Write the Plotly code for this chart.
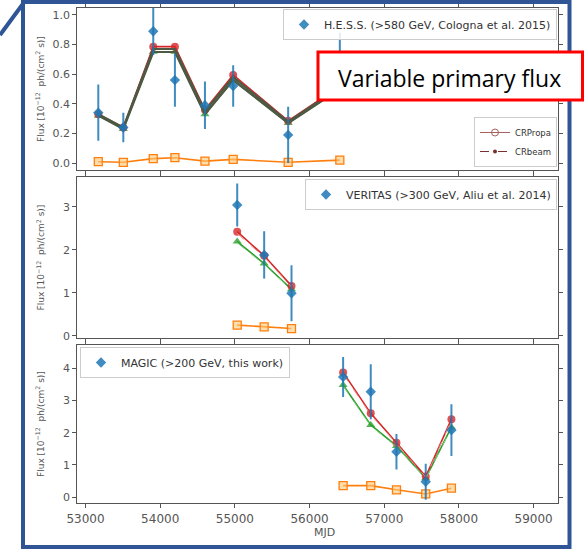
import plotly.graph_objects as go

W, H = 584, 551


def px(x):
    return x / W


def py(y):
    return 1 - y / H


# ---- H.E.S.S. (>580 GeV) ----
hess_mjd = [53171, 53506, 53907, 54197, 54599, 54977, 55713, 56405]
hess_flux = [0.34, 0.24, 0.89, 0.56, 0.39, 0.52, 0.19, 0.66]
hess_err = [0.19, 0.10, 0.16, 0.18, 0.16, 0.14, 0.19, 0.22]
hess_tot_crpropa = [0.33, 0.24, 0.786, 0.786, 0.36, 0.595, 0.285, 0.52]
hess_prim_crpropa = [0.32, 0.23, 0.752, 0.752, 0.33, 0.56, 0.27, 0.50]
hess_casc_crpropa = [0.009, 0.005, 0.030, 0.036, 0.013, 0.025, 0.005, 0.02]
hess_tot_crbeam = [0.33, 0.24, 0.77, 0.77, 0.35, 0.58, 0.28, 0.51]
hess_prim_crbeam = [0.32, 0.23, 0.75, 0.75, 0.33, 0.56, 0.27, 0.50]

# ---- VERITAS (>300 GeV) ----
ver_mjd = [55031, 55392, 55758]
ver_flux = [3.04, 1.88, 0.99]
ver_err = [0.50, 0.55, 0.65]
ver_tot_crpropa = [2.42, 1.86, 1.16]
ver_prim_crpropa = [2.19, 1.68, 1.08]
ver_casc_crpropa = [0.25, 0.21, 0.17]
ver_tot_crbeam = [2.38, 1.83, 1.14]
ver_prim_crbeam = [2.16, 1.66, 1.07]

# ---- MAGIC (>200 GeV) ----
mag_mjd = [56449, 56819, 57163, 57555, 57899]
mag_flux = [3.73, 3.27, 1.41, 0.48, 2.08]
mag_err = [0.62, 0.85, 0.55, 0.56, 0.80]
mag_tot_crpropa = [3.87, 2.60, 1.69, 0.64, 2.42]
mag_prim_crpropa = [3.48, 2.24, 1.59, 0.59, 2.17]
mag_casc_crpropa = [0.36, 0.36, 0.23, 0.10, 0.28]
mag_tot_crbeam = [3.82, 2.56, 1.66, 0.62, 2.38]
mag_prim_crbeam = [3.45, 2.21, 1.57, 0.58, 2.14]

legend_names = [
    "H.E.S.S. (>580 GeV, Cologna et al. 2015)",
    "VERITAS (>300 GeV, Aliu et al. 2014)",
    "MAGIC (>200 GeV, this work)",
]
y_title = "Flux [10<sup>\u221212</sup>  ph/(cm<sup>2</sup> s)]"
x_tick_vals = [53000, 54000, 55000, 56000, 57000, 58000, 59000]

OBS = "rgba(31,119,180,0.85)"
RED = "#d62728"
GREEN = "#2ca02c"
ORANGE = "#ff7f0e"

fig = go.Figure()

panels = [
    dict(ax="", mjd=hess_mjd, flux=hess_flux, err=hess_err,
         tot=hess_tot_crpropa, prim=hess_prim_crpropa, casc=hess_casc_crpropa,
         tot_b=hess_tot_crbeam, prim_b=hess_prim_crbeam, legend="legend",
         beam_colors=("#4e5843", "#4e5843"), beam_dash="solid", beam_width=2.2),
    dict(ax="2", mjd=ver_mjd, flux=ver_flux, err=ver_err,
         tot=ver_tot_crpropa, prim=ver_prim_crpropa, casc=ver_casc_crpropa,
         tot_b=ver_tot_crbeam, prim_b=ver_prim_crbeam, legend="legend2",
         beam_colors=("#e58a8a", "#7fcf7f"), beam_dash="dash", beam_width=1),
    dict(ax="3", mjd=mag_mjd, flux=mag_flux, err=mag_err,
         tot=mag_tot_crpropa, prim=mag_prim_crpropa, casc=mag_casc_crpropa,
         tot_b=mag_tot_crbeam, prim_b=mag_prim_crbeam, legend="legend3",
         beam_colors=("#e58a8a", "#7fcf7f"), beam_dash="dash", beam_width=1),
]

for i, p in enumerate(panels):
    xa, ya = "x" + p["ax"], "y" + p["ax"]
    # cascade component
    fig.add_trace(go.Scatter(
        x=p["mjd"], y=p["casc"], mode="lines+markers", xaxis=xa, yaxis=ya,
        line=dict(color=ORANGE, width=1.6),
        marker=dict(symbol="square", size=8, color="rgba(255,200,120,0.6)",
                    line=dict(color=ORANGE, width=1.3)),
        showlegend=False, hoverinfo="skip"))
    # primary component
    fig.add_trace(go.Scatter(
        x=p["mjd"], y=p["prim"], mode="lines+markers", xaxis=xa, yaxis=ya,
        line=dict(color=GREEN, width=1.6),
        marker=dict(symbol="triangle-up", size=8, color="rgba(44,160,44,0.8)"),
        showlegend=False))
    # total flux
    fig.add_trace(go.Scatter(
        x=p["mjd"], y=p["tot"], mode="lines+markers", xaxis=xa, yaxis=ya,
        line=dict(color=RED, width=1.6),
        marker=dict(symbol="circle", size=8, color="rgba(214,39,40,0.8)"),
        showlegend=False))
    # CRbeam curves
    fig.add_trace(go.Scatter(
        x=p["mjd"], y=p["prim_b"], mode="lines", xaxis=xa, yaxis=ya,
        line=dict(color=p["beam_colors"][1], width=p["beam_width"], dash=p["beam_dash"]),
        showlegend=False))
    fig.add_trace(go.Scatter(
        x=p["mjd"], y=p["tot_b"], mode="lines", xaxis=xa, yaxis=ya,
        line=dict(color=p["beam_colors"][0], width=p["beam_width"], dash=p["beam_dash"]),
        showlegend=False))
    # observations
    fig.add_trace(go.Scatter(
        x=p["mjd"], y=p["flux"], mode="markers", xaxis=xa, yaxis=ya,
        name=legend_names[i], legend=p["legend"],
        marker=dict(symbol="diamond", size=8, color=OBS),
        error_y=dict(type="data", array=p["err"], color=OBS, thickness=2, width=0)))

# code legend proxies
fig.add_trace(go.Scatter(
    x=[None], y=[None], mode="lines+markers", name="CRPropa", legend="legend4",
    line=dict(color="#a8615e", width=1),
    marker=dict(symbol="circle-open", size=7, color="#a8615e")))
fig.add_trace(go.Scatter(
    x=[None], y=[None], mode="lines+markers", name="CRbeam", legend="legend4",
    line=dict(color="#7b3030", width=1, dash="dash"),
    marker=dict(symbol="circle", size=4, color="#7b3030")))

axis_common = dict(
    showline=True, linecolor="#555", linewidth=1.2, mirror="ticks",
    ticks="outside", ticklen=4, tickcolor="#555", showgrid=False, zeroline=False,
    automargin=False,
    tickfont=dict(family="DejaVu Sans", size=11, color="#555"),
)
xdom = [px(77.3), px(558.3)]
xrange = [52890, 59330]

fig.update_layout(
    width=W, height=H, margin=dict(l=0, r=0, t=0, b=0, autoexpand=False),
    paper_bgcolor="white", plot_bgcolor="white",
    xaxis=dict(domain=xdom, anchor="y", range=xrange, tickvals=x_tick_vals,
               showticklabels=False, **axis_common),
    xaxis2=dict(domain=xdom, anchor="y2", range=xrange, matches="x", tickvals=x_tick_vals,
                showticklabels=False, **axis_common),
    xaxis3=dict(domain=xdom, anchor="y3", range=xrange, matches="x", tickvals=x_tick_vals,
                tickformat="d", **axis_common),
    yaxis=dict(domain=[py(170), py(8)], anchor="x", range=[-0.047, 1.047],
               tickvals=[0, 0.2, 0.4, 0.6, 0.8, 1.0], tickformat=".1f", **axis_common),
    yaxis2=dict(domain=[py(338), py(177)], anchor="x2", range=[-0.05, 3.69],
                tickvals=[0, 1, 2, 3], **axis_common),
    yaxis3=dict(domain=[py(503), py(345)], anchor="x3", range=[-0.18, 4.72],
                tickvals=[0, 1, 2, 3, 4], **axis_common),
    showlegend=True,
)
fig.update_layout(xaxis3_tickfont=dict(family="DejaVu Sans", size=12, color="#555"))

leg_common = dict(bgcolor="rgba(255,255,255,0.85)", bordercolor="#cccccc", borderwidth=1,
                  itemwidth=30, tracegroupgap=0)
obs_font = dict(family="DejaVu Sans", size=11, color="#333")
fig.update_layout(
    legend=dict(x=px(557), xanchor="right", y=py(9), yanchor="top", font=obs_font, **leg_common),
    legend2=dict(x=px(557), xanchor="right", y=py(179), yanchor="top", font=obs_font, **leg_common),
    legend3=dict(x=px(80), xanchor="left", y=py(347), yanchor="top", font=obs_font, **leg_common),
    legend4=dict(x=px(557), xanchor="right", y=py(167), yanchor="bottom",
                 font=dict(family="DejaVu Sans", size=8.5, color="#333"), **leg_common),
)

# y-axis titles and x-axis title
centers = [(8 + 170) / 2, (177 + 338) / 2, (345 + 503) / 2]
annotations = []
for c in centers:
    annotations.append(dict(
        x=px(40), y=py(c), xref="paper", yref="paper", text=y_title, textangle=-90,
        xanchor="center", yanchor="middle", showarrow=False,
        font=dict(family="DejaVu Sans", size=9, color="#555")))
annotations.append(dict(
    x=px(325), y=py(532), xref="paper", yref="paper", text="MJD", showarrow=False,
    xanchor="center", yanchor="middle",
    font=dict(family="DejaVu Sans", size=11, color="#555")))
annotations.append(dict(
    x=px(449), y=py(78), xref="paper", yref="paper", text="Variable primary flux",
    xanchor="center", yanchor="middle", showarrow=False,
    font=dict(family="Open Sans", size=23, color="black")))
fig.update_layout(annotations=annotations)

FRAME = "#2f5597"
shapes = [
    # slide frame
    dict(type="rect", xref="paper", yref="paper", x0=px(23), x1=px(569.5),
         y0=py(547), y1=py(2), line=dict(color=FRAME, width=4), layer="above"),
    dict(type="line", xref="paper", yref="paper", x0=px(0), y0=py(35),
         x1=px(25), y1=py(1), line=dict(color=FRAME, width=4), layer="above"),
    # caption box
    dict(type="rect", xref="paper", yref="paper", x0=px(318), x1=px(582.5),
         y0=py(100), y1=py(52), line=dict(color="#ff0000", width=3),
         fillcolor="white", layer="above"),
]
fig.update_layout(shapes=shapes)

fig.write_html("out.html")
